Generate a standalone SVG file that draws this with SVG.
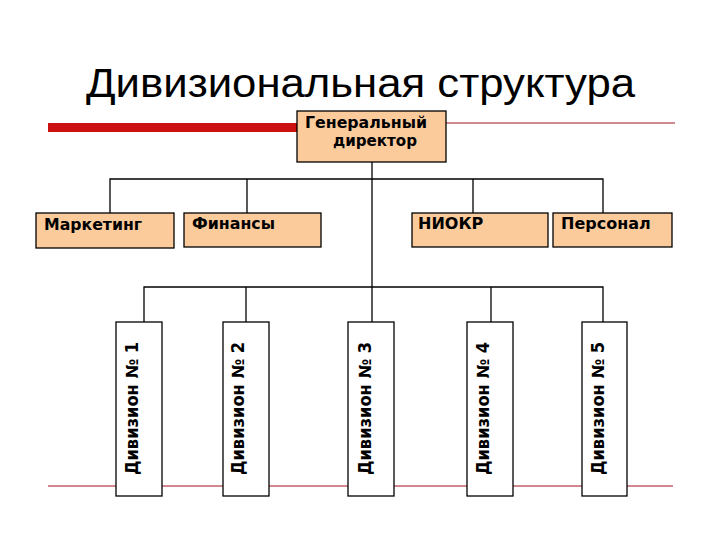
<svg xmlns="http://www.w3.org/2000/svg" width="720" height="540" viewBox="0 0 720 540">
<style>
.title{font-family:"Liberation Sans","DejaVu Sans",sans-serif;font-size:40px;fill:#000}
.lbl{font-family:"DejaVu Sans",Verdana,sans-serif;font-weight:bold;font-size:16px;fill:#000}
.vlbl{font-family:"DejaVu Sans",Verdana,sans-serif;font-weight:bold;font-size:17px;fill:#000}
.gd{font-family:"DejaVu Sans",Verdana,sans-serif;font-weight:bold;font-size:15px;fill:#000}
.box{fill:#FBCB9C;stroke:#000;stroke-width:1.3}
.div{fill:#fff;stroke:#000;stroke-width:1.3}
.conn{fill:none;stroke:#000;stroke-width:1.3}
.red{stroke:#A0141E;stroke-width:1}
</style>
<rect width="720" height="540" fill="#fff"/>
<g id="decor">
<text class="title" x="86" y="97" textLength="549" lengthAdjust="spacingAndGlyphs">Дивизиональная  структура</text>
<rect x="48" y="123" width="250" height="9" fill="#CC1111"/>
<line class="red" x1="446" y1="123" x2="675" y2="123"/>
<line class="red" x1="48" y1="486" x2="673" y2="486"/>
</g>
<g id="connectors">
<path class="conn" d="M372,162 V322"/>
<path class="conn" d="M110,213 V179 H603 V213"/>
<path class="conn" d="M247,179 V213"/>
<path class="conn" d="M473,179 V213"/>
<path class="conn" d="M144,322 V287 H603 V322"/>
<path class="conn" d="M246,287 V322"/>
<path class="conn" d="M491,287 V322"/>
</g>
<g id="gd">
<rect class="box" x="297" y="111" width="149" height="51"/>
<text class="gd" x="305" y="128" textLength="122" lengthAdjust="spacingAndGlyphs">Генеральный</text>
<text class="gd" x="333" y="146" textLength="84" lengthAdjust="spacingAndGlyphs">директор</text>
</g>
<g id="marketing">
<rect class="box" x="36" y="213" width="138" height="35"/>
<text class="lbl" x="44" y="230" textLength="98" lengthAdjust="spacingAndGlyphs">Маркетинг</text>
</g>
<g id="finance">
<rect class="box" x="184" y="213" width="137" height="34"/>
<text class="lbl" x="192" y="229" textLength="83" lengthAdjust="spacingAndGlyphs">Финансы</text>
</g>
<g id="niokr">
<rect class="box" x="412" y="213" width="136" height="34"/>
<text class="lbl" x="418" y="229">НИОКР</text>
</g>
<g id="personnel">
<rect class="box" x="553" y="213" width="119" height="34"/>
<text class="lbl" x="561" y="229">Персонал</text>
</g>
<g id="div1">
<rect class="div" x="116" y="322" width="46" height="174"/>
<text class="vlbl" transform="translate(138,475) rotate(-90)" textLength="133" lengthAdjust="spacingAndGlyphs">Дивизион № 1</text>
</g>
<g id="div2">
<rect class="div" x="223" y="322" width="46" height="174"/>
<text class="vlbl" transform="translate(244,475) rotate(-90)" textLength="133" lengthAdjust="spacingAndGlyphs">Дивизион № 2</text>
</g>
<g id="div3">
<rect class="div" x="348" y="322" width="46" height="174"/>
<text class="vlbl" transform="translate(371,475) rotate(-90)" textLength="133" lengthAdjust="spacingAndGlyphs">Дивизион № 3</text>
</g>
<g id="div4">
<rect class="div" x="467" y="322" width="46" height="174"/>
<text class="vlbl" transform="translate(489,475) rotate(-90)" textLength="133" lengthAdjust="spacingAndGlyphs">Дивизион № 4</text>
</g>
<g id="div5">
<rect class="div" x="582" y="322" width="45" height="174"/>
<text class="vlbl" transform="translate(604,475) rotate(-90)" textLength="133" lengthAdjust="spacingAndGlyphs">Дивизион № 5</text>
</g>
</svg>
